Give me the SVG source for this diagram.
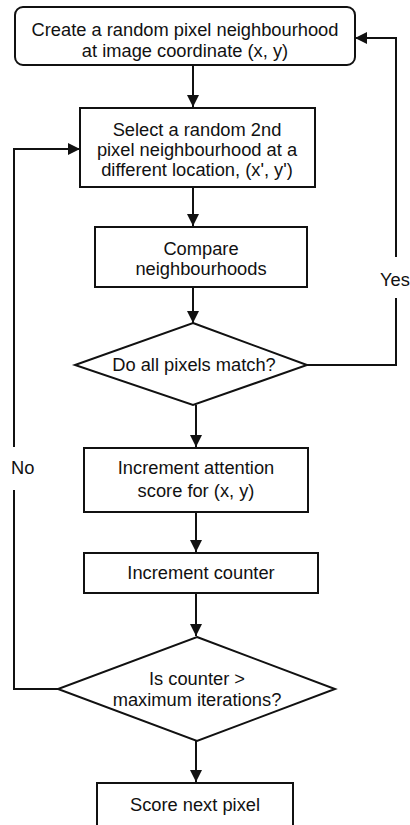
<svg xmlns="http://www.w3.org/2000/svg" width="410" height="825" viewBox="0 0 410 825">
  <style>
    .box { fill: #fff; stroke: #111; stroke-width: 2; }
    .link { fill: none; stroke: #111; stroke-width: 2; }
    text { font-family: "Liberation Sans", Arial, sans-serif; font-size: 18.3px; fill: #111; text-anchor: middle; }
    .lbl { text-anchor: start; }
  </style>
  <defs>
    <marker id="arrow" viewBox="0 0 12 12" refX="12" refY="6" markerWidth="12" markerHeight="12" markerUnits="userSpaceOnUse" orient="auto">
      <path d="M0,0 L12,6 L0,12 Z" fill="#111"/>
    </marker>
  </defs>

  <rect width="410" height="825" fill="#fff"/>

  <g id="connectors">
    <path class="link" d="M193,65 V107" marker-end="url(#arrow)"/>
    <path class="link" d="M193,187 V226" marker-end="url(#arrow)"/>
    <path class="link" d="M193,287 V323" marker-end="url(#arrow)"/>
    <path class="link" d="M196,405 V447" marker-end="url(#arrow)"/>
    <path class="link" d="M196,512 V552" marker-end="url(#arrow)"/>
    <path class="link" d="M196,593 V636" marker-end="url(#arrow)"/>
    <path class="link" d="M196,741 V782" marker-end="url(#arrow)"/>
    <!-- Yes branch back to the start -->
    <path class="link" d="M307,365 H396 V298"/>
    <path class="link" d="M396,257 V38 H355" marker-end="url(#arrow)"/>
    <!-- No branch back to the second selection -->
    <path class="link" d="M58,689 H14 V490"/>
    <path class="link" d="M14,447 V149 H80" marker-end="url(#arrow)"/>
    <text class="lbl" x="380" y="286">Yes</text>
    <text class="lbl" x="11" y="474">No</text>
  </g>

  <g id="create">
    <rect class="box" x="15" y="7" width="340" height="58" rx="8"/>
    <text x="185" y="36">Create a random pixel neighbourhood</text>
    <text x="185" y="57">at image coordinate (x, y)</text>
  </g>

  <g id="select">
    <rect class="box" x="80" y="108" width="235" height="79"/>
    <text x="197" y="136">Select a random 2nd</text>
    <text x="197" y="156">pixel neighbourhood at a</text>
    <text x="197" y="176">different location, (x', y')</text>
  </g>

  <g id="compare">
    <rect class="box" x="95" y="227" width="212" height="60"/>
    <text x="201" y="255">Compare</text>
    <text x="201" y="275">neighbourhoods</text>
  </g>

  <g id="match">
    <path class="box" d="M193,323 L307,365 L193,405 L75,365 Z"/>
    <text x="194" y="371">Do all pixels match?</text>
  </g>

  <g id="attention">
    <rect class="box" x="84" y="448" width="224" height="64"/>
    <text x="196" y="474">Increment attention</text>
    <text x="196" y="497">score for (x, y)</text>
  </g>

  <g id="counter">
    <rect class="box" x="84" y="553" width="234" height="40"/>
    <text x="201" y="579">Increment counter</text>
  </g>

  <g id="max-check">
    <path class="box" d="M197,637 L335,689 L197,741 L58,689 Z"/>
    <text x="197" y="685">Is counter &gt;</text>
    <text x="197" y="706">maximum iterations?</text>
  </g>

  <g id="next">
    <rect class="box" x="97" y="783" width="196" height="50"/>
    <text x="195" y="811">Score next pixel</text>
  </g>
</svg>
